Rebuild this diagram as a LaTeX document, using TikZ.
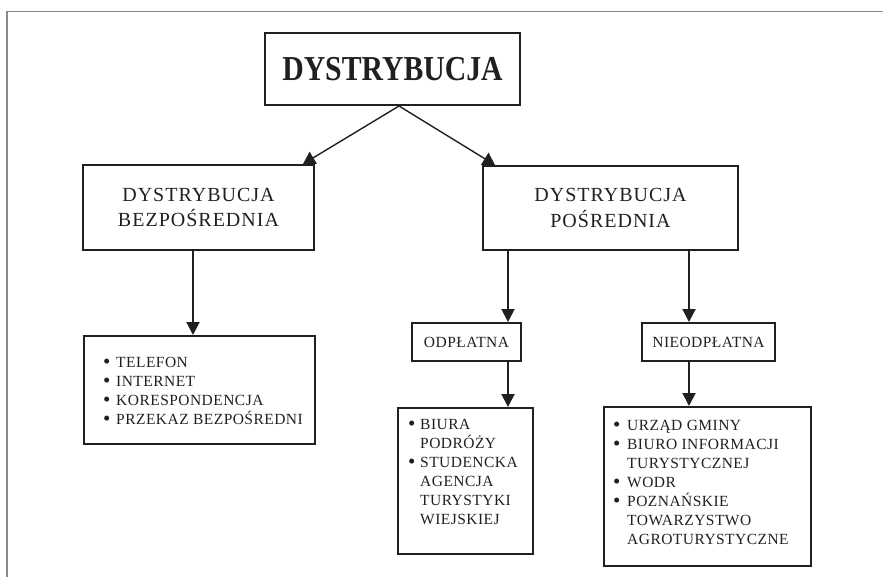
\documentclass[tikz,border=0pt]{standalone}
\usepackage{fontspec}
\usepackage{graphicx}
\setmainfont{Liberation Serif}
\newfontfamily\spcfont[LetterSpace=3]{Liberation Serif}
\newfontfamily\spcfontb[LetterSpace=5]{Liberation Serif}
\usetikzlibrary{arrows.meta}
\definecolor{ink}{HTML}{231F20}
\definecolor{framec}{HTML}{8A8A8A}
\tikzset{
  box/.style={draw=ink, line width=2pt, inner sep=0pt, text=ink, align=center},
  arr/.style={draw=ink, line width=2pt, -{Triangle[width=13pt,length=13pt]}},
  darr/.style={draw=ink, line width=1.4pt, -{Triangle[width=14pt,length=12pt]}},
  lbl/.style={font=\spcfontb\fontsize{20}{25.5}\selectfont},
  sm/.style={font=\spcfont\fontsize{15.5}{19}\selectfont},
  lst/.style={anchor=base west, inner sep=0pt, text=ink, font=\spcfont\fontsize{15.5}{19}\selectfont}
}
\newcommand{\blist}[2]{\begin{tabular}[t]{@{}p{#1}@{}l@{}}#2\end{tabular}}
\newcommand{\bul}{\raisebox{-1.6pt}{\scalebox{1.35}{\textbullet}}}
\begin{document}
\begin{tikzpicture}[x=1pt,y=-1pt]
\useasboundingbox (0,0) rectangle (883,577);
% open frame
\draw[framec, line width=1.2pt] (883,11.5) -- (7,11.5) -- (7,577);
% boxes
\node[box, minimum width=255pt, minimum height=72pt] (top) at (392.5,69)
  {\scalebox{0.85}[1]{\fontsize{35}{40}\selectfont\bfseries DYSTRYBUCJA}};
\node[box, lbl, minimum width=231pt, minimum height=85pt] (L) at (198.5,207.5)
  {DYSTRYBUCJA\\BEZPOŚREDNIA};
\node[box, lbl, minimum width=255pt, minimum height=84pt] (R) at (610.5,208)
  {DYSTRYBUCJA\\POŚREDNIA};
\node[box, minimum width=231pt, minimum height=108pt] (LL) at (199.5,390) {};
\node[box, sm, minimum width=109pt, minimum height=38pt] (OD) at (466.5,342) {ODPŁATNA};
\node[box, sm, minimum width=133pt, minimum height=38pt] (NO) at (708.5,342) {NIEODPŁATNA};
\node[box, minimum width=135pt, minimum height=146pt] (OL) at (465.5,481) {};
\node[box, minimum width=207pt, minimum height=159pt] (NL) at (707.5,486.5) {};
% list texts
\node[lst] (LLt) at (103,367) {\blist{13pt}{%
  \bul & TELEFON\\
  \bul & INTERNET\\
  \bul & KORESPONDENCJA\\
  \bul & PRZEKAZ BEZPOŚREDNI}};
\node[lst] (OLt) at (408,429) {\blist{12pt}{%
  \bul & BIURA\\
   & PODRÓŻY\\
  \bul & STUDENCKA\\
   & AGENCJA\\
   & TURYSTYKI\\
   & WIEJSKIEJ}};
\node[lst] (NLt) at (613,430) {\blist{14pt}{%
  \bul & URZĄD GMINY\\
  \bul & BIURO INFORMACJI\\
   & TURYSTYCZNEJ\\
  \bul & WODR\\
  \bul & POZNAŃSKIE\\
   & TOWARZYSTWO\\
   & AGROTURYSTYCZNE}};
% connectors
\draw[darr] ([xshift=6.5pt]top.south) -- ([xshift=-12pt]L.north east);
\draw[darr] ([xshift=6.5pt]top.south) -- ([xshift=13pt]R.north west);
\path ([xshift=-5.5pt]L.south) coordinate (lin);
\draw[arr] (lin) -- (lin |- LL.north);
\path ([xshift=-14pt]OD.north east) coordinate (odin);
\path ([xshift=-19.5pt]NO.north) coordinate (noin);
\draw[arr] (odin |- R.south) -- (odin);
\draw[arr] (noin |- R.south) -- (noin);
\draw[arr] (odin |- OD.south) -- (odin |- OL.north);
\draw[arr] (noin |- NO.south) -- (noin |- NL.north);
\end{tikzpicture}
\end{document}
